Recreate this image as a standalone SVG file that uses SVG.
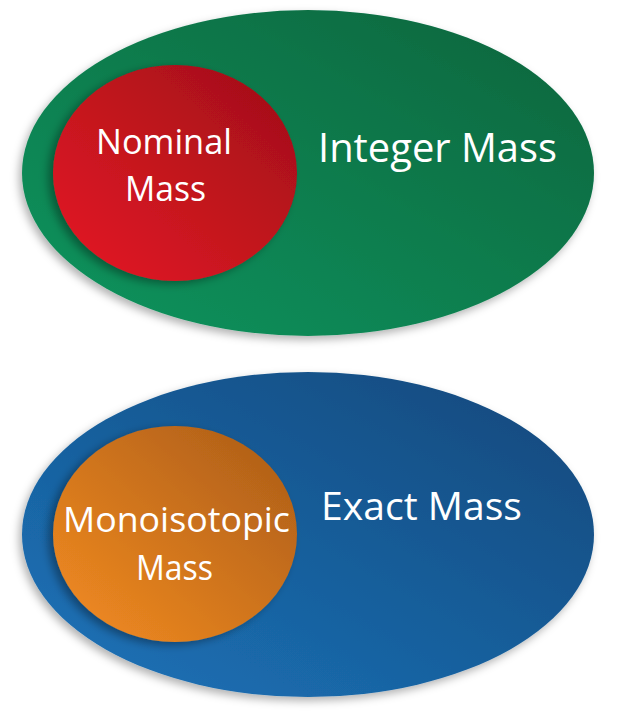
<svg xmlns="http://www.w3.org/2000/svg" width="620" height="712" viewBox="0 0 620 712">
  <style>
    .lbl { font-family: "Open Sans", "Liberation Sans", sans-serif; fill: #ffffff; }
  </style>
  <defs>
    <linearGradient id="gGreen" x1="0" y1="1" x2="1" y2="0">
      <stop offset="0" stop-color="#12955f"/>
      <stop offset="1" stop-color="#06643c"/>
    </linearGradient>
    <linearGradient id="gRed" x1="0" y1="1" x2="1" y2="0">
      <stop offset="0" stop-color="#e71b25"/>
      <stop offset="1" stop-color="#9e0e17"/>
    </linearGradient>
    <linearGradient id="gBlue" x1="0" y1="1" x2="1" y2="0">
      <stop offset="0" stop-color="#1d74ba"/>
      <stop offset="1" stop-color="#11477a"/>
    </linearGradient>
    <linearGradient id="gOrange" x1="0" y1="1" x2="1" y2="0">
      <stop offset="0" stop-color="#f58d22"/>
      <stop offset="1" stop-color="#a95b17"/>
    </linearGradient>
    <filter id="shadowOuter" x="-10%" y="-10%" width="120%" height="125%">
      <feDropShadow dx="-3" dy="4" stdDeviation="4" flood-color="#000" flood-opacity="0.3"/>
    </filter>
    <filter id="shadowInner" x="-10%" y="-10%" width="120%" height="125%">
      <feDropShadow dx="-5" dy="3" stdDeviation="4" flood-color="#000" flood-opacity="0.35"/>
    </filter>
  </defs>
  <rect width="620" height="712" fill="#ffffff"/>

  <g id="integer-mass">
    <ellipse cx="308" cy="173" rx="286" ry="163" fill="url(#gGreen)" filter="url(#shadowOuter)"/>
    <text class="lbl" x="318" y="162" font-size="40" textLength="239" lengthAdjust="spacingAndGlyphs">Integer Mass</text>
  </g>
  <g id="nominal-mass">
    <ellipse cx="175" cy="173" rx="122" ry="108" fill="url(#gRed)" filter="url(#shadowInner)"/>
    <text class="lbl" x="96" y="154" font-size="35" textLength="136" lengthAdjust="spacingAndGlyphs">Nominal</text>
    <text class="lbl" x="125" y="201" font-size="35" textLength="81" lengthAdjust="spacingAndGlyphs">Mass</text>
  </g>

  <g id="exact-mass">
    <ellipse cx="308" cy="534.5" rx="286" ry="162.5" fill="url(#gBlue)" filter="url(#shadowOuter)"/>
    <text class="lbl" x="321" y="519.5" font-size="38" textLength="201" lengthAdjust="spacingAndGlyphs">Exact Mass</text>
  </g>
  <g id="monoisotopic-mass">
    <ellipse cx="175" cy="534" rx="122" ry="108" fill="url(#gOrange)" filter="url(#shadowInner)"/>
    <text class="lbl" x="63" y="532" font-size="34.5" textLength="227" lengthAdjust="spacingAndGlyphs">Monoisotopic</text>
    <text class="lbl" x="136" y="580" font-size="34.5" textLength="77" lengthAdjust="spacingAndGlyphs">Mass</text>
  </g>

  <g id="connectors"/>
</svg>
